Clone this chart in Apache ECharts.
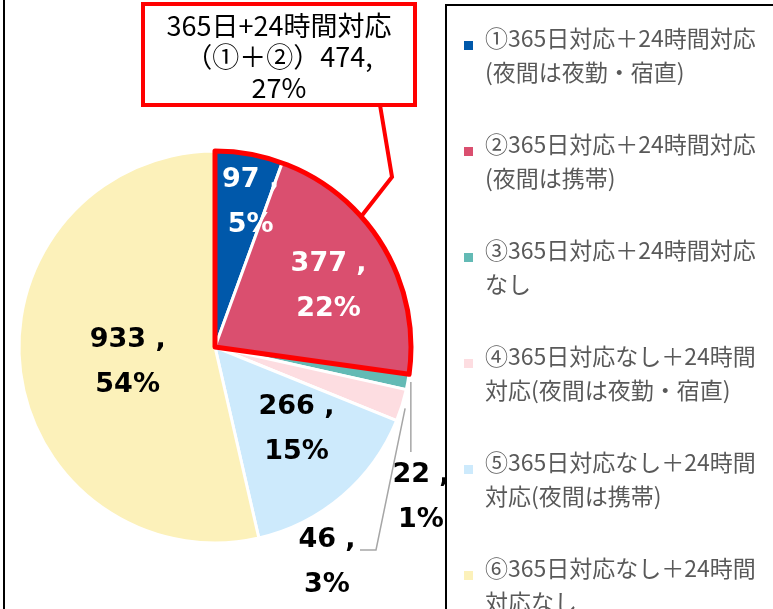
<!DOCTYPE html>
<html>
<head>
<meta charset="utf-8">
<script src="https://cdn.jsdelivr.net/npm/echarts@6/dist/echarts.min.js"></script>
<style>
  html, body { margin: 0; padding: 0; background: #fff; }
  #chart { width: 773px; height: 609px; }
</style>
</head>
<body>
<div id="chart"></div>
<script>
var categories = [
  '①365日対応＋24時間対応\n(夜間は夜勤・宿直)',
  '②365日対応＋24時間対応\n(夜間は携帯)',
  '③365日対応＋24時間対応\nなし',
  '④365日対応なし＋24時間\n対応(夜間は夜勤・宿直)',
  '⑤365日対応なし＋24時間\n対応(夜間は携帯)',
  '⑥365日対応なし＋24時間\n対応なし'
];
var counts = [97, 377, 22, 46, 266, 933];

// callout for ①+②
var calloutHead = '365日+24時間対応';
var calloutTag = '（①＋②）';

var total = counts.reduce(function (a, b) { return a + b; }, 0);
var groupCount = counts[0] + counts[1];
var groupPct = Math.round(groupCount / total * 100);

var chartDom = document.getElementById('chart');
var chart = echarts.init(chartDom);

// label nudges (inside) and fixed spots for the two small slices
var labelShift = {
  0: { dx: 18, dy: -45 },
  1: { dx: 27, dy: -9 },
  2: { x: 421, y: 497, align: 'center', verticalAlign: 'middle' },
  3: { x: 327, y: 562, align: 'center', verticalAlign: 'middle' },
  4: { dx: 16, dy: 6 },
  5: { dx: 13, dy: 4 }
};

var pieData = categories.map(function (name, i) {
  var inside = i !== 2 && i !== 3;
  return {
    name: name,
    value: counts[i],
    label: { position: inside ? 'inside' : 'outside', color: i < 2 ? '#fff' : '#000' },
    labelLine: { show: !inside }
  };
});

var center = [215, 347];
var radius = 196;

option = {
  animation: false,
  color: ['#0058aa', '#da4f6f', '#63bab5', '#fddde1', '#cdeafc', '#fcf1ba'],
  title: {
    text: calloutHead + '\n' + calloutTag + groupCount + ',\n' + groupPct + '%',
    left: 255,
    top: 4,
    textAlign: 'center',
    padding: [6, 24, 2, 24],
    backgroundColor: '#fff',
    borderColor: '#ff0000',
    borderWidth: 4,
    textStyle: {
      fontFamily: 'Noto Sans CJK JP',
      fontSize: 27,
      fontWeight: 'normal',
      color: '#000',
      lineHeight: 31
    }
  },
  legend: {
    orient: 'vertical',
    left: 446,
    top: 5,
    height: 1000,
    padding: [16, 60, 40, 18],
    itemGap: 38,
    itemWidth: 16,
    itemHeight: 68,
    icon: 'path://M0,0M0,20L9,20L9,29L0,29ZM16,68',
    borderColor: '#000',
    borderWidth: 2,
    itemStyle: { borderWidth: 0 },
    data: categories,
    textStyle: {
      fontFamily: 'Noto Sans CJK JP',
      fontSize: 23,
      lineHeight: 34,
      color: '#595959'
    }
  },
  graphic: [{
    type: 'line',
    shape: { x1: 4, y1: 0, x2: 4, y2: 609 },
    style: { stroke: '#000', lineWidth: 2 }
  }],
  series: [
    {
      type: 'pie',
      center: center,
      radius: radius,
      startAngle: 90,
      clockwise: true,
      avoidLabelOverlap: false,
      percentPrecision: 0,
      emphasis: { disabled: true },
      itemStyle: { borderColor: '#fff', borderWidth: 3 },
      label: {
        show: true,
        position: 'outside',
        formatter: '{c} ,\n{d}%',
        fontFamily: 'DejaVu Sans',
        fontWeight: 'bold',
        fontSize: 27,
        lineHeight: 45
      },
      labelLine: {
        length: 10,
        length2: 0,
        lineStyle: { color: '#a6a6a6', width: 1.5 }
      },
      labelLayout: function (p) {
        var s = labelShift[p.dataIndex];
        var out = Object.assign({}, s);
        var a = p.labelLinePoints && p.labelLinePoints[0];
        if (a && p.dataIndex === 2) {
          out.labelLinePoints = [[a[0] + 3, a[1]], [a[0] + 3, 452]];
        } else if (a && p.dataIndex === 3) {
          out.labelLinePoints = [[a[0] + 3, a[1] + 3], [376, 550], [360, 550]];
        }
        return out;
      },
      data: pieData
    },
    {
      type: 'pie',
      center: center,
      radius: radius,
      startAngle: 90,
      clockwise: true,
      silent: true,
      z: 3,
      avoidLabelOverlap: false,
      emphasis: { disabled: true },
      label: { show: true, position: 'outside', formatter: ' ', fontSize: 1 },
      labelLine: {
        show: true,
        length: 20,
        length2: 72,
        lineStyle: { color: '#ff0000', width: 4 }
      },
      labelLayout: function (p) {
        if (p.dataIndex === 0) {
          var out = { x: 380, y: 105, align: 'center', verticalAlign: 'bottom' };
          var a = p.labelLinePoints && p.labelLinePoints[0];
          if (a) out.labelLinePoints = [[a[0] - 1, a[1] - 3], [392, 177], [380, 105]];
          return out;
        }
      },
      data: [
        {
          name: '①＋②',
          value: groupCount,
          itemStyle: { color: 'transparent', borderColor: '#ff0000', borderWidth: 5 }
        },
        {
          name: 'その他',
          value: total - groupCount,
          itemStyle: { color: 'transparent', borderWidth: 0 },
          label: { show: false },
          labelLine: { show: false }
        }
      ]
    }
  ]
};

chart.setOption(option);
</script>
</body>
</html>
